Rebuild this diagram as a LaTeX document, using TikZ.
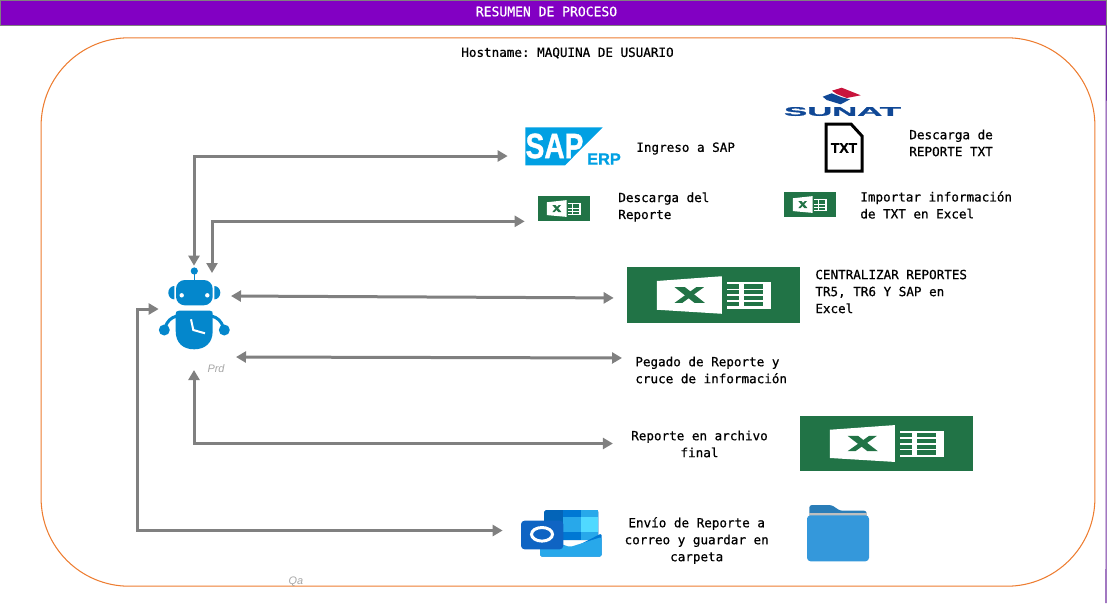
\documentclass[tikz,border=0pt]{standalone}
\usepackage{fontspec}
\setmainfont{Liberation Sans}
\setmonofont{DejaVu Sans Mono}[RawFeature={embolden=0.7}]
\newfontfamily\logofont{Liberation Sans Bold}[RawFeature={embolden=1.2}]
\usetikzlibrary{arrows.meta, positioning, shapes.geometric, calc}
\definecolor{cabmorado}{RGB}{130,0,195}
\definecolor{lineamorada}{RGB}{112,48,160}
\definecolor{marconaranja}{RGB}{237,125,49}
\definecolor{flechagris}{RGB}{128,128,128}
\definecolor{robotazul}{RGB}{4,135,204}
\definecolor{excelverde}{RGB}{33,115,70}
\definecolor{sapazul}{RGB}{0,160,227}
\definecolor{sunatazul}{RGB}{16,72,150}
\definecolor{sunatrojo}{RGB}{200,20,60}
\definecolor{carpetaazul}{RGB}{52,152,219}
\definecolor{carpetaoscuro}{RGB}{42,125,184}
\definecolor{outoscuro}{RGB}{3,100,184}
\definecolor{outmedio}{RGB}{0,120,212}
\definecolor{outclaro}{RGB}{40,168,234}
\definecolor{outcian}{RGB}{80,217,255}
\definecolor{outcuadro}{RGB}{15,100,195}
\tikzset{
  cabecera/.style={draw=flechagris, fill=cabmorado, inner sep=0pt},
  marco/.style={draw=marconaranja, line width=.6pt, rounded corners=1.76cm, inner sep=0pt},
  etiqueta/.style={inner sep=0pt, text=black, yshift=-.01cm, font=\ttfamily\fontsize{7.17}{9.65}\selectfont},
  etiqizq/.style={etiqueta, anchor=west, align=left},
  etiqcen/.style={etiqueta, align=center},
  iconbox/.style={inner sep=0pt, draw=none},
  excelbox/.style={inner sep=0pt, fill=excelverde},
  ambiente/.style={inner sep=0pt, text=black!35, font=\itshape\fontsize{6.2}{8}\selectfont},
  flecha/.style={draw=flechagris, line width=.06cm, {Triangle[length=.2cm,width=.22cm]}-{Triangle[length=.2cm,width=.22cm]}},
  hojaexcel/.pic={
    \fill[white] (-.328,-.25) -- (.048,-.335) -- (.048,.335) -- (-.328,.263) -- cycle;
    \fill[white] (.077,-.233) rectangle (.331,.246);
    \fill[excelverde] (-.225,-.14) -- (-.165,-.14) -- (-.05,.14) -- (-.11,.14) -- cycle;
    \fill[excelverde] (-.10,-.14) -- (-.055,-.14) -- (-.18,.14) -- (-.225,.14) -- cycle;
    \foreach \fila in {-.19,-.085,.02,.125} {
      \fill[excelverde] (.077,\fila) rectangle (.145,\fila+.075);
      \fill[excelverde] (.177,\fila) rectangle (.285,\fila+.075);
    }
  },
}
\begin{document}
\begin{tikzpicture}[x=.02cm, y=-.02cm]
\useasboundingbox (0,0) rectangle (1109,603);
\node[cabecera, minimum width=22.12cm, minimum height=.5cm] (titulo) at (553,12.5) {};
\node[etiqueta, text=white, font=\ttfamily\fontsize{7.42}{9.65}\selectfont] (titulotxt) at (546.5,11) {RESUMEN DE PROCESO};
\draw[lineamorada, line width=.6pt] (titulo.south east) -- (1106,603);
\node[marco, minimum width=21.08cm, minimum height=10.97cm] (maquina) at (568,312) {};
\node[etiqcen] (hostname) at (567.5,52.5) {Hostname: MAQUINA DE USUARIO};

\node[iconbox, minimum width=1.4cm, minimum height=1.72cm] (robot) at (194,309) {};
\draw[robotazul, line width=.8pt] (194.3,271) -- (194.3,281);
\fill[robotazul] (194.3,271) circle (3.6);
\fill[robotazul, rounded corners=5pt] (176,280) rectangle (212.7,305.3);
\fill[robotazul] (174.3,286) arc (-90:-270:6 and 6.7) -- cycle;
\fill[robotazul] (214.3,286) arc (-90:90:6 and 6.7) -- cycle;
\fill[white] (181.7,295.3) circle (2.2);
\fill[white] (207.3,295.3) circle (2.2);
\fill[robotazul] (179,310.7) -- (210,310.7) .. controls (212.5,310.7) and (212.7,312) .. (212.7,314) -- (212.7,331) .. controls (212.7,343) and (205,349.3) .. (194.3,349.3) .. controls (183,349.3) and (175.7,343) .. (175.7,331) -- (175.7,314) .. controls (175.7,312) and (176.5,310.7) .. (179,310.7) -- cycle;
\draw[robotazul, line width=.06cm] (177,316) .. controls (171,317.5) and (167,321) .. (165,328);
\draw[robotazul, line width=.06cm] (211.5,316) .. controls (217.5,317.5) and (221.5,321) .. (223.5,328);
\fill[robotazul] (164.3,330) circle (5.5);
\fill[robotazul] (224.3,330) circle (5.5);
\draw[white, line width=.04cm] (191,319.3) -- (193.3,330) -- (205,333.3);
\node[ambiente] (prd) at (216,369) {Prd};
\node[ambiente] (qa) at (296,582) {Qa};

\node[iconbox, minimum width=1.94cm, minimum height=.76cm] (sap) at (573.5,146) {};
\fill[sapazul] (525.3,127.3) -- (602.7,127.3) -- (565,165.3) -- (525.3,165.3) -- cycle;
\node[inner sep=0pt, text=white, font=\logofont\fontsize{20}{20}\selectfont] (saptxt) at (554.5,146) {\scalebox{.8}[1]{SAP}};
\node[inner sep=0pt, text=sapazul, font=\logofont\fontsize{9.3}{10}\selectfont] (erp) at (604,159) {ERP};
\node[etiqizq] (ingreso) at (636,148) {Ingreso a SAP};

\node[excelbox, minimum width=1.04cm, minimum height=.5cm] (excelsap) at (564,208.5) {};
\pic[xscale=52,yscale=25] at (excelsap) {hojaexcel};
\node[etiqizq] (descarga) at (618,206.5) {Descarga del\\Reporte};

\fill[sunatrojo] (832,90.7) -- (841.7,87.7) -- (860.7,95.3) -- (846.7,98) -- (836.7,94) -- cycle;
\fill[sunatazul] (822.7,96.7) -- (831.7,93.3) -- (841.7,97.3) -- (850,99.3) -- (840.7,104.3) -- (826.7,100) -- cycle;
\node[inner sep=0pt, text=sunatazul, font=\logofont\fontsize{7.1}{8}\selectfont] (sunat) at (842.5,111.5) {\scalebox{2.78}[1]{SUNAT}};
\node[inner sep=0pt, font=\logofont\fontsize{7.9}{8}\selectfont] (txt) at (844,148) {TXT};
\draw[black, line width=.06cm, line join=miter] (826,124) -- (851,124) -- (862,136) -- (862,171) -- (826,171) -- cycle;
\node[etiqizq] (descargatxt) at (909,142.5) {Descarga de\\REPORTE TXT};

\node[excelbox, minimum width=1.04cm, minimum height=.5cm] (exceltxt) at (810,204.5) {};
\pic[xscale=52,yscale=25] at (exceltxt) {hojaexcel};
\node[etiqizq] (importar) at (860,204.5) {Importar información\\de TXT en Excel};

\node[excelbox, minimum width=3.46cm, minimum height=1.12cm] (excelcentral) at (713.5,295) {};
\pic[xscale=173,yscale=56] at (excelcentral) {hojaexcel};
\node[etiqizq] (centralizar) at (815,291) {CENTRALIZAR REPORTES\\TR5, TR6 Y SAP en\\Excel};

\node[etiqizq] (pegado) at (635,369.5) {Pegado de Reporte y\\cruce de información};

\node[etiqcen] (final) at (699.5,443.5) {Reporte en archivo\\final};
\node[excelbox, minimum width=3.46cm, minimum height=1.1cm] (excelfinal) at (886.5,443.5) {};
\pic[xscale=173,yscale=55] at (excelfinal) {hojaexcel};

\node[iconbox, minimum width=1.62cm, minimum height=.94cm] (outlook) at (561.5,533.5) {};
\fill[outoscuro, rounded corners=1pt] (544,510) rectangle (598.3,540);
\fill[outmedio] (563.3,510) rectangle (581,517.3);
\fill[outclaro] (581,510) rectangle (598.3,517.3);
\fill[outclaro] (563.3,517.3) rectangle (581,531.7);
\fill[outcian] (581,517.3) rectangle (598.3,531.7);
\fill[outmedio] (563.3,531.7) rectangle (581,540);
\fill[outclaro] (581,531.7) rectangle (598.3,540);
\fill[outmedio, rounded corners=1pt] (601.7,533.3) -- (601.7,556.7) -- (540,556.7) -- (540,533.3) -- (571,549) -- cycle;
\fill[outclaro, rounded corners=1pt] (540,556.7) -- (540,537) -- (570,547) -- (601.7,537) -- (601.7,556.7) -- cycle;
\fill[outcuadro, rounded corners=2pt] (521,520.7) rectangle (563.3,549.3);
\draw[white, line width=.06cm] (542,534.3) ellipse (10.5 and 6.8);
\node[etiqcen] (envio) at (696.7,540) {Envío de Reporte a\\correo y guardar en\\carpeta};

\node[iconbox, minimum width=1.24cm, minimum height=1.12cm] (carpeta) at (838,533) {};
\fill[carpetaoscuro, rounded corners=1.5pt] (809.3,520) -- (809.3,505) -- (831.7,505) -- (840,510.7) -- (866.7,510.7) -- (866.7,520) -- cycle;
\fill[black!25] (809.3,512.7) rectangle (866.7,516);
\fill[carpetaazul, rounded corners=2pt] (807,515.3) rectangle (869,561.3);

\coordinate (puertob) at (212,273);
\coordinate (puertoc) at (231,296);
\coordinate (puertod) at (236,357);
\coordinate (puertoe) at (194,370);
\coordinate (esquina) at (137,309);

\draw[flecha, shorten >=.34cm] (robot.north) |- ([yshift=-.2cm]sap.west);
\draw[flecha, shorten >=.26cm] (puertob) |- (excelsap.south west);
\draw[flecha, shorten >=.26cm] (puertoc) -- ([yshift=-.06cm]excelcentral.west);
\draw[flecha, shorten >=.26cm] (puertod) -- ([yshift=.24cm]pegado.west);
\draw[flecha, shorten >=.36cm] (puertoe) |- ([yshift=.01cm]final.west);
\draw[flecha, shorten >=.36cm] (robot.west) -- (esquina) |- ([yshift=.06cm]outlook.west);
\end{tikzpicture}
\end{document}
